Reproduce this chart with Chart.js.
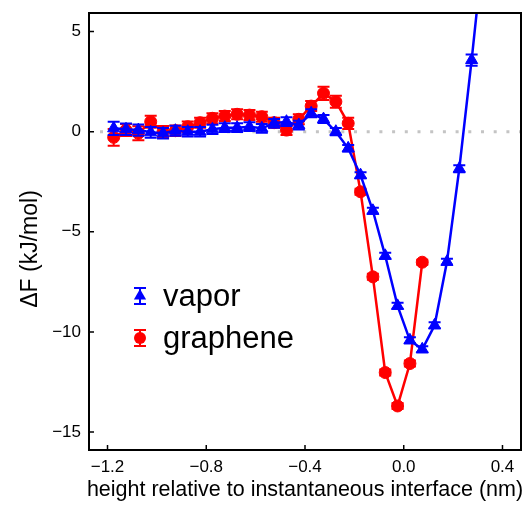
<!DOCTYPE html>
<html>
<head>
<meta charset="utf-8">
<script src="https://cdn.jsdelivr.net/npm/chart.js@4.4.1/dist/chart.umd.min.js"></script>
<style>
  html, body { margin: 0; padding: 0; background: #fff; }
</style>
</head>
<body>
<canvas id="freeEnergyChart" width="526" height="510"></canvas>
<script>
// height relative to the instantaneous interface (nm), bin centres
const heights = [
  -1.175, -1.125, -1.075, -1.025, -0.975, -0.925, -0.875, -0.825, -0.775, -0.725,
  -0.675, -0.625, -0.575, -0.525, -0.475, -0.425, -0.375, -0.325, -0.275, -0.225,
  -0.175, -0.125, -0.075, -0.025, 0.025, 0.075, 0.125, 0.175, 0.225, 0.275, 0.325
];

// free energy profiles, kJ/mol
const vaporF = [
  0.17, 0.12, 0.08, -0.03, -0.08, 0.05, 0.0, 0.0, 0.12, 0.2,
  0.2, 0.25, 0.17, 0.42, 0.5, 0.33, 0.92, 0.63, 0.0, -0.83,
  -2.17, -3.95, -6.2, -8.7, -10.42, -10.87, -9.67, -6.5, -1.85, 3.58, 9.4
];
const vaporErr = [
  0.33, 0.29, 0.28, 0.27, 0.26, 0.25, 0.24, 0.24, 0.23, 0.22,
  0.22, 0.22, 0.22, 0.22, 0.22, 0.22, 0.2, 0.2, 0.18, 0.16,
  0.15, 0.15, 0.15, 0.15, 0.15, 0.15, 0.15, 0.15, 0.18, 0.28, 0.3
];
const grapheneF = [
  -0.28, 0.08, -0.08, 0.5, 0.0, 0.05, 0.25, 0.45, 0.67, 0.78,
  0.87, 0.83, 0.75, 0.45, 0.08, 0.62, 1.28, 1.92, 1.5, 0.42,
  -3.0, -7.25, -12.03, -13.7, -11.58, -6.52
];
const grapheneErr = [
  0.42, 0.3, 0.35, 0.3, 0.28, 0.26, 0.26, 0.25, 0.25, 0.25,
  0.25, 0.25, 0.25, 0.25, 0.25, 0.25, 0.25, 0.33, 0.3, 0.28,
  0.15, 0.15, 0.15, 0.15, 0.15, 0.12
];

const xTicks = [-1.2, -0.8, -0.4, 0.0, 0.4];
const yTicks = [5, 0, -5, -10, -15];

const FONT = '"Liberation Sans", Arial, Helvetica, sans-serif';
const BLUE = '#0000ff';
const RED = '#ff0000';

const minus = s => s.replace('-', '\u2212');

// vertical error bars with caps, drawn right after their own dataset
const errorBars = {
  id: 'errorBars',
  afterDatasetDraw(chart, args) {
    const ds = chart.data.datasets[args.index];
    if (!ds.errors) return;
    const { ctx, chartArea } = chart;
    const yScale = chart.scales.y;
    ctx.save();
    ctx.beginPath();
    ctx.rect(chartArea.left, chartArea.top, chartArea.right - chartArea.left, chartArea.bottom - chartArea.top);
    ctx.clip();
    ctx.strokeStyle = ds.borderColor;
    ctx.lineWidth = 2;
    args.meta.data.forEach((pt, i) => {
      const v = ds.data[i].y, e = ds.errors[i];
      const top = yScale.getPixelForValue(v + e);
      const bot = yScale.getPixelForValue(v - e);
      ctx.beginPath();
      ctx.moveTo(pt.x, top); ctx.lineTo(pt.x, bot);
      ctx.moveTo(pt.x - 6, top); ctx.lineTo(pt.x + 6, top);
      ctx.moveTo(pt.x - 6, bot); ctx.lineTo(pt.x + 6, bot);
      ctx.stroke();
    });
    ctx.restore();
  }
};

// zero line, box, inward ticks, axis titles and the in-plot legend
const decorations = {
  id: 'decorations',
  beforeDatasetsDraw(chart) {
    const { ctx, chartArea } = chart;
    const y0 = chart.scales.y.getPixelForValue(0);
    ctx.save();
    ctx.strokeStyle = '#c4c4c4';
    ctx.lineWidth = 3;
    ctx.setLineDash([3, 9.7]);
    ctx.beginPath();
    ctx.moveTo(chartArea.left + 11, y0);
    ctx.lineTo(chartArea.right, y0);
    ctx.stroke();
    ctx.restore();
  },
  afterDraw(chart) {
    const { ctx, chartArea: a } = chart;
    const xs = chart.scales.x, ys = chart.scales.y;
    ctx.save();
    ctx.strokeStyle = '#000';
    ctx.lineWidth = 1.5;
    ctx.beginPath();
    xTicks.forEach(v => {
      const px = xs.getPixelForValue(v);
      ctx.moveTo(px, a.bottom); ctx.lineTo(px, a.bottom - 5);
    });
    yTicks.forEach(v => {
      const py = ys.getPixelForValue(v);
      ctx.moveTo(a.left, py); ctx.lineTo(a.left + 5, py);
    });
    ctx.stroke();
    ctx.lineWidth = 2;
    ctx.strokeRect(a.left, a.top, a.right - a.left, a.bottom - a.top);

    // axis titles
    ctx.fillStyle = '#000';
    ctx.textAlign = 'center';
    ctx.textBaseline = 'alphabetic';
    ctx.font = '21.5px ' + FONT;
    ctx.fillText('height relative to instantaneous interface (nm)', 305, 496);
    ctx.save();
    ctx.translate(37, 249);
    ctx.rotate(-Math.PI / 2);
    ctx.font = '23px ' + FONT;
    ctx.fillText('\u0394F (kJ/mol)', 0, 0);
    ctx.restore();

    // legend
    const entries = [
      { label: 'vapor', color: BLUE, style: 'triangle', y: 296 },
      { label: 'graphene', color: RED, style: 'circle', y: 338 }
    ];
    ctx.textAlign = 'left';
    ctx.font = '31px ' + FONT;
    entries.forEach(e => {
      const cx = 140;
      ctx.strokeStyle = e.color;
      ctx.lineWidth = 2;
      ctx.beginPath();
      ctx.moveTo(cx, e.y - 8); ctx.lineTo(cx, e.y + 8);
      ctx.moveTo(cx - 6, e.y - 8); ctx.lineTo(cx + 6, e.y - 8);
      ctx.moveTo(cx - 6, e.y + 8); ctx.lineTo(cx + 6, e.y + 8);
      ctx.stroke();
      ctx.fillStyle = e.color;
      ctx.beginPath();
      if (e.style === 'circle') {
        ctx.arc(cx, e.y, 6, 0, Math.PI * 2);
      } else {
        ctx.moveTo(cx, e.y - 7);
        ctx.lineTo(cx + 6.1, e.y + 3.5);
        ctx.lineTo(cx - 6.1, e.y + 3.5);
        ctx.closePath();
      }
      ctx.fill();
      ctx.fillStyle = '#000';
      ctx.fillText(e.label, 163, e.y + 10);
    });
    ctx.restore();
  }
};

const toPoints = (vals) => vals.map((v, i) => ({ x: heights[i], y: v }));

new Chart(document.getElementById('freeEnergyChart'), {
  type: 'line',
  data: {
    datasets: [
      {
        label: 'vapor',
        data: toPoints(vaporF),
        errors: vaporErr,
        borderColor: BLUE,
        backgroundColor: BLUE,
        borderWidth: 2.5,
        pointStyle: 'triangle',
        pointRadius: 7,
        pointBorderWidth: 1,
        tension: 0,
        clip: 0
      },
      {
        label: 'graphene',
        data: toPoints(grapheneF),
        errors: grapheneErr,
        borderColor: RED,
        backgroundColor: RED,
        borderWidth: 2.5,
        pointStyle: 'circle',
        pointRadius: 6,
        pointBorderWidth: 1,
        tension: 0,
        clip: 0
      }
    ]
  },
  options: {
    responsive: false,
    animation: false,
    devicePixelRatio: 1,
    layout: { autoPadding: false, padding: { top: 13, right: 5, left: 0, bottom: 0 } },
    plugins: {
      legend: { display: false },
      tooltip: { enabled: false }
    },
    scales: {
      x: {
        type: 'linear',
        min: -1.275,
        max: 0.475,
        grid: { display: false, drawTicks: false },
        border: { display: false },
        afterBuildTicks: s => { s.ticks = xTicks.map(v => ({ value: v })); },
        afterFit: s => {
          s.height = 60;
          s.paddingLeft = 0;
          s.paddingRight = 0;
        },
        ticks: {
          padding: 7,
          color: '#000',
          maxRotation: 0,
          font: { family: FONT, size: 17 },
          callback: v => minus(v.toFixed(1))
        }
      },
      y: {
        type: 'linear',
        min: -15.9,
        max: 5.93,
        grid: { display: false, drawTicks: false },
        border: { display: false },
        afterBuildTicks: s => { s.ticks = yTicks.map(v => ({ value: v })); },
        afterFit: s => {
          s.width = 89;
          s.paddingTop = 0;
          s.paddingBottom = 0;
        },
        ticks: {
          padding: 8,
          color: '#000',
          font: { family: FONT, size: 17 },
          callback: v => minus(String(v))
        }
      }
    }
  },
  plugins: [errorBars, decorations]
});
</script>
</body>
</html>
